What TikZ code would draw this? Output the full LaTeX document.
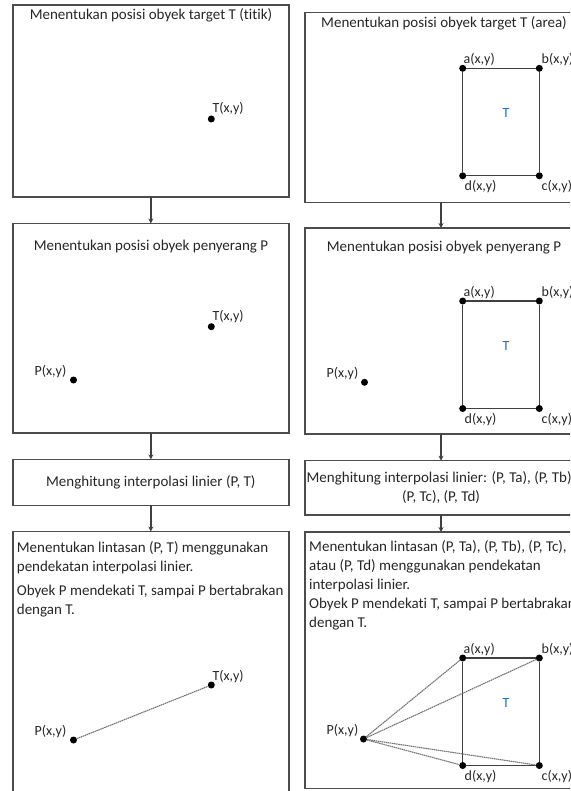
\documentclass[tikz,border=0pt]{standalone}
\usepackage{fontspec}
\setmainfont{Carlito}[Ligatures=NoCommon]
\usepackage{xcolor}
\usetikzlibrary{arrows.meta, positioning}
\definecolor{inkgray}{RGB}{38,38,38}
\definecolor{tblue}{RGB}{40,110,175}

\begin{document}
\begin{tikzpicture}[x=1pt, y=-1pt, every node/.style={font=\fontsize{15}{19}\selectfont, text=inkgray}, >={Stealth[length=5pt, width=5pt]},
  panel/.style={draw=black!70, line width=1.4pt, inner sep=0pt, outer sep=0pt},
  pnt/.style={circle, fill=black, inner sep=0pt, minimum size=7pt},
  lbl/.style={font=\fontsize{14}{16}\selectfont, inner sep=0pt, anchor=west},
  tmark/.style={font=\fontsize{14}{16}\selectfont, text=tblue, inner sep=0pt},
  edge/.style={draw=black!75, line width=1.4pt},
  track/.style={draw=black!55, line width=1.1pt, dash pattern=on 1.5pt off 0.6pt},
  flow/.style={->, draw=black!75, line width=1.3pt}]
  \useasboundingbox (0,0) rectangle (570,791);
  \clip (0,0) rectangle (570,791);

  % left column: target is a point
  \node[panel, minimum width=276pt, minimum height=192pt] (L1) at (150.85,101) {};
  \node[panel, minimum width=276pt, minimum height=209.5pt] (L2) at (150.85,328.25) {};
  \node[panel, minimum width=276pt, minimum height=46pt] (L3) at (150.85,482.4) {Menghitung interpolasi linier (P, T)};
  \node[panel, minimum width=276pt, minimum height=290pt] (L4) at (150.85,676.5) {};
  \draw[flow] (L1) -- (L2);
  \draw[flow] (L2) -- (L3);
  \draw[flow] (L3) -- (L4);

  \node (L1t) at (151,15) {Menentukan posisi obyek target T (titik)};
  \node (L2t) at (151,247) {Menentukan posisi obyek penyerang P};
  \node[anchor=north west, align=left, inner sep=0pt] (L4t) at (16.7,541) {Menentukan lintasan (P, T) menggunakan\\pendekatan interpolasi linier.\\[5pt]Obyek P mendekati T, sampai P bertabrakan\\dengan T.};

  \node[pnt] (T1) at (211.3,119) {};
  \node[lbl] (T1l) at (212.3,109) {T(x,y)};
  \node[pnt] (T2) at (211.3,326.7) {};
  \node[lbl] (T2l) at (212.3,316.7) {T(x,y)};
  \node[pnt] (P2) at (73.5,380) {};
  \node[lbl] (P2l) at (34.5,371.5) {P(x,y)};
  \node[pnt] (T4) at (211.3,685) {};
  \node[lbl] (T4l) at (212.3,676.5) {T(x,y)};
  \node[pnt] (P4) at (73.5,740) {};
  \node[lbl] (P4l) at (34.5,731.5) {P(x,y)};
  \draw[track] (P4) -- (T4);

  % right column: target is an area
  \node[panel, minimum width=272pt, minimum height=190pt] (R1) at (441,107.5) {};
  \node[panel, minimum width=272pt, minimum height=206pt] (R2) at (441,331) {};
  \node[panel, minimum width=272pt, minimum height=54.3pt, align=center] (R3) at (441,487.85) {Menghitung interpolasi linier: (P, Ta), (P, Tb),\\(P, Tc), (P, Td)};
  \node[panel, minimum width=272pt, minimum height=256.5pt] (R4) at (441,660.25) {};
  \draw[flow] (R1) -- (R2);
  \draw[flow] (R2) -- (R3);
  \draw[flow] (R3) -- (R4);

  \node (R1t) at (444,23) {Menentukan posisi obyek target T (area)};
  \node (R2t) at (444,248) {Menentukan posisi obyek penyerang P};
  \node[anchor=north west, align=left, inner sep=0pt] (R4t) at (309,540) {Menentukan lintasan (P, Ta), (P, Tb), (P, Tc),\\atau (P, Td) menggunakan pendekatan\\interpolasi linier.\\Obyek P mendekati T, sampai P bertabrakan\\dengan T.};

  \foreach \k/\ya in {1/68.3, 2/301, 4/658} {
    \node[pnt] (a\k) at (462.7,\ya) {};
    \node[pnt] (b\k) at (539.3,\ya) {};
    \node[pnt] (c\k) at (539.3,\ya+107.5) {};
    \node[pnt] (d\k) at (462.7,\ya+107.5) {};
    \draw[edge] (a\k) -- (b\k) -- (c\k) -- (d\k) -- (a\k);
    \node[lbl] (al\k) at (463.5,\ya-8.5) {a(x,y)};
    \node[lbl] (bl\k) at (541.5,\ya-8.5) {b(x,y)};
    \node[lbl] (cl\k) at (541.5,\ya+118.5) {c(x,y)};
    \node[lbl] (dl\k) at (464.5,\ya+118.5) {d(x,y)};
    \node[tmark] (Tc\k) at (506,\ya+45) {T};
  }

  \node[pnt] (Q2) at (364.5,382.3) {};
  \node[lbl] (Q2l) at (326.5,373.5) {P(x,y)};
  \node[pnt] (Q4) at (363.5,739) {};
  \node[lbl] (Q4l) at (326.5,730) {P(x,y)};
  \draw[track] (Q4) -- (a4);
  \draw[track] (Q4) -- (b4);
  \draw[track] (Q4) -- (c4);
  \draw[track] (Q4) -- (d4);
\end{tikzpicture}
\end{document}
